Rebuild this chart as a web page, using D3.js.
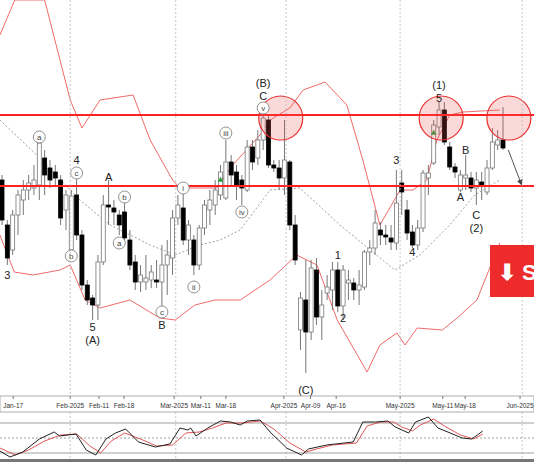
<!DOCTYPE html>
<html><head><meta charset="utf-8">
<script src="https://cdn.jsdelivr.net/npm/d3@7"></script>
<style>body{margin:0;background:#fff}svg{display:block;font-family:"Liberation Sans",Arial,sans-serif}</style>
</head><body><div id="canvas"></div>
<script>
// candles: [open, close, high, low]
const candles = [
[220,180,225,175],[175,142,180,135],[150,185,190,145],[185,205,210,165],[200,210,220,185],
[210,217,225,200],[212,220,235,205],[215,257,263,200],[242,225,250,205],[232,220,240,212],
[228,222,235,215],[220,182,225,175],[190,205,210,170],[150,204,210,148],[205,165,222,160],
[165,115,170,110],[115,100,120,95],[102,95,105,80],[95,138,145,80],[138,195,205,135],
[195,193,220,175],[192,188,200,175],[185,175,190,165],[188,162,200,155],[160,135,170,130],
[138,118,145,110],[118,125,135,108],[118,122,145,110],[120,128,135,112],[120,118,140,112],
[118,135,155,90],[135,145,160,105],[142,182,190,125],[182,195,205,175],[192,160,208,155],
[160,175,180,145],[160,135,165,125],[135,172,175,130],[172,195,200,165],[190,200,210,175],
[195,210,220,185],[205,228,235,200],[202,238,260,200],[238,225,245,215],[228,215,235,200],
[220,212,225,195],[210,253,260,208],[253,238,260,230],[242,260,270,235],[260,282,288,250],
[280,235,285,232],[235,232,240,228],[232,222,240,210],[222,240,280,205],[238,175,240,170],
[175,140,185,135],[70,102,108,50],[100,68,140,27],[68,132,140,60],[130,83,142,75],
[83,95,110,60],[107,113,125,100],[110,130,138,90],[130,94,138,88],[94,130,135,80],
[117,120,130,100],[117,110,122,100],[110,115,130,95],[113,148,150,110],[148,152,160,135],
[152,177,190,145],[170,165,178,155],[165,163,175,155],[162,158,175,150],[157,197,230,150],
[217,208,230,185],[190,167,200,160],[168,155,175,152],[155,172,180,150],[172,227,230,168],
[222,227,235,205],[237,275,280,235],[273,290,298,265],[290,258,298,255],[253,233,258,230],
[233,228,237,222],[210,225,230,208],[222,225,245,210],[222,212,228,208],[212,220,228,195],
[218,214,228,200],[208,232,240,205],[232,258,272,230],[255,260,270,250],[260,252,293,250]
];
const upperBand = [[-0.4,365],[2.4,400],[8,400],[12.8,300],[15,272],[18.4,300],[24.6,305],[27.8,260],[32,220],[33.4,212],[40.3,212],[43.3,235],[48.4,265],[50.3,280],[54,292],[56.5,310],[60.6,318],[64.7,295],[67.7,240],[70.9,175],[74.7,210],[77.1,210],[79.7,220],[81.6,260],[84,285],[86.5,288],[93.4,290]];
const lowerBand = [[-0.4,165],[2.3,128],[5.8,125],[10.9,130],[12.8,135],[15.6,100],[18.4,92],[24,100],[29.6,82],[32.5,80],[36.2,95],[40,100],[44.7,100],[50.3,120],[55.3,145],[59.1,135],[62.9,80],[68.5,28],[70.9,55],[74.1,67],[75.6,55],[77.9,72],[82.6,70],[85.4,82],[89.1,100],[93.4,157]];
const midBand = [[-0.4,280],[7.1,242],[14.6,200],[20.3,175],[27.8,155],[32.5,145],[37.1,155],[40.9,160],[44.7,170],[50.3,210],[55.9,212],[63.4,175],[73.7,130],[78.4,145],[84,175],[88.7,205],[93.4,220]];
const stochK = [[-0.4,24],[1.5,12],[3.9,22],[7,48],[9.8,62],[10.8,54],[13.9,58],[15.8,26],[17.6,16],[19.5,48],[21.3,60],[23.2,68],[25.6,42],[28.8,32],[31.5,38],[33.4,70],[34.9,66],[35.4,70],[36.4,54],[38.6,70],[41,84],[42.9,82],[44.7,76],[46,84],[48.4,86],[50.3,62],[53.4,30],[56.2,16],[57.5,28],[60.9,36],[65.9,42],[67.7,82],[70.1,82],[72.4,84],[73.8,72],[76.3,60],[77.6,82],[80,92],[81.8,70],[85,56],[86.3,50],[88.1,48],[89.2,56],[90.2,64]];
const stochD = [[-0.4,30],[2.5,16],[5,26],[8,44],[11,56],[14,58],[16.5,34],[18.5,20],[20.5,44],[23,60],[26,48],[29,34],[32,36],[34.5,60],[37,62],[39.5,70],[42,80],[45,80],[48.5,84],[51,68],[54,40],[57,22],[59,28],[62,36],[66.5,40],[68.5,74],[71,82],[73.5,82],[75,72],[77,64],[78.5,76],[81,88],[83,74],[86,56],[88.5,48],[90.2,58]];
const dateLabels = [[2.1,"Jan-17"],[12.8,"Feb-2025"],[18.2,"Feb-11"],[22.9,"Feb-18"],[32.3,"Mar-2025"],[37.3,"Mar-11"],[42,"Mar-18"],[52.9,"Apr-2025"],[57.9,"Apr-09"],[62.7,"Apr-16"],[74.7,"May-2025"],[82.7,"May-11"],[86.9,"May-18"],[97.2,"Jun-2025"]];
const monthStarts = [12.8,32.6,53.3,74.7,97.6];
// wave labels: [candle index, price, text, circled]
const waveLabels = [[1,125,"3",0],[7,263,"a",1],[14,240,"4",0],[14,227,"c",1],[13,144,"b",1],[17,73,"5",0],[17,60,"(A)",0],
[20,223,"A",0],[23,203,"b",1],[22,157,"a",1],[30,88,"c",1],[30,75,"B",0],[34,212,"i",1],[36,113,"ii",1],[42,267,"iii",1],
[45,188,"iv",1],[49,292,"v",1],[49,304,"C",0],[49,317,"(B)",0],[57,10,"(C)",0],[63,145,"1",0],[64,82,"2",0],[74,240,"3",0],
[77,148,"4",0],[82,302,"5",0],[82,315,"(1)",0],[86,203,"A",0],[87,250,"B",0],[89,185,"C",0],[89,172,"(2)",0]];
const levels = [285,214];
const circles = [[52.3,282],[82.4,282],[95.1,282]];
const arrowPts = [[95,250],[97.5,215]];

const width = 534, height = 462, mainBottom = 396;
const svg = d3.select('#canvas').append('svg').attr('width', width).attr('height', height);
const x = d3.scaleLinear().domain([0, 94]).range([2, 503]);
const y = d3.scaleLinear().domain([4, 400]).range([mainBottom, 0]);
const ys = d3.scaleLinear().domain([0, 100]).range([463, 413]);

svg.append('clipPath').attr('id','clip').append('rect').attr('width', width).attr('height', mainBottom);
const g = svg.append('g').attr('clip-path','url(#clip)');

// month grid
svg.selectAll('.vgrid').data(monthStarts).join('line')
  .attr('x1', d => x(d)).attr('x2', d => x(d)).attr('y1', 0).attr('y2', height)
  .attr('stroke', '#bbb').attr('stroke-width', 0.8).attr('stroke-dasharray', '2,2');

const line = d3.line().x(d => x(d[0])).y(d => y(d[1]));
g.append('path').attr('d', line(midBand)).attr('fill','none').attr('stroke','#888').attr('stroke-dasharray','2,2').attr('stroke-width',0.8);
[upperBand, lowerBand].forEach(b => g.append('path').attr('d', line(b)).attr('fill','none').attr('stroke','#f06a6a').attr('stroke-width',1));

// candles
const cw = 4;
g.selectAll('.wick').data(candles).join('line')
  .attr('x1', (d,i) => x(i)).attr('x2', (d,i) => x(i))
  .attr('y1', d => y(d[2])).attr('y2', d => y(d[3]))
  .attr('stroke', '#777').attr('stroke-width', 1);
g.selectAll('.body').data(candles).join('rect')
  .attr('x', (d,i) => x(i) - cw/2).attr('width', cw)
  .attr('y', d => y(Math.max(d[0], d[1])))
  .attr('height', d => Math.max(1, Math.abs(y(d[0]) - y(d[1]))))
  .attr('fill', d => d[1] >= d[0] ? '#fff' : '#000')
  .attr('stroke', d => d[1] >= d[0] ? '#777' : '#000').attr('stroke-width', 0.8);

// green markers
[41, 81].forEach(i => g.append('path').attr('d', d3.symbol(d3.symbolTriangle, 14)())
  .attr('transform', `translate(${x(i)},${y(candles[i][1]) + 8})`).attr('fill', '#2a9d3a'));

// levels and circles
g.selectAll('.lvl').data(levels).join('line')
  .attr('x1', 0).attr('x2', width).attr('y1', d => y(d)).attr('y2', d => y(d))
  .attr('stroke', '#f22').attr('stroke-width', 2);
g.selectAll('.circ').data(circles).join('circle')
  .attr('cx', d => x(d[0])).attr('cy', d => y(d[1])).attr('r', 22)
  .attr('fill', 'rgba(240,80,80,0.22)').attr('stroke', '#e83030').attr('stroke-width', 1.2);

// arrow
svg.append('defs').append('marker').attr('id','ah').attr('viewBox','0 0 10 10').attr('refX',9).attr('refY',5)
  .attr('markerWidth',6).attr('markerHeight',6).attr('orient','auto')
  .append('path').attr('d','M0,0L10,5L0,10z').attr('fill','#444');
g.append('path').attr('d', line(arrowPts)).attr('stroke','#555').attr('stroke-width',1).attr('marker-end','url(#ah)');

// wave labels
waveLabels.forEach(([i, p, t, c]) => {
  if (c) {
    g.append('circle').attr('cx', x(i)).attr('cy', y(p)).attr('r', 6).attr('fill','#fff').attr('stroke','#777').attr('stroke-width',0.8);
    g.append('text').attr('x', x(i)).attr('y', y(p) + 3).attr('text-anchor','middle').attr('font-size', 8).attr('fill','#444').text(t);
  } else {
    g.append('text').attr('x', x(i)).attr('y', y(p) + 4).attr('text-anchor','middle').attr('font-size', 11).attr('fill','#222').text(t);
  }
});

// sell banner (cut off at the right edge, as in the source)
svg.append('rect').attr('x', 490).attr('y', 245).attr('width', 60).attr('height', 52).attr('fill', '#ee2b2b');
svg.append('text').attr('x', 498).attr('y', 280).attr('fill','#fff').attr('font-size', 22).attr('font-weight','bold').text('⬇ S');

// date axis strip
svg.append('rect').attr('x', 0).attr('y', mainBottom).attr('width', width).attr('height', 16).attr('fill','#fff').attr('stroke','#999').attr('stroke-width',0.8);
svg.selectAll('.dl').data(dateLabels).join('text')
  .attr('x', d => x(d[0])).attr('y', mainBottom + 12).attr('text-anchor','middle')
  .attr('font-size', 6.5).attr('fill','#333').text(d => d[1]);
svg.selectAll('.dt').data(dateLabels).join('line')
  .attr('x1', d => x(d[0])).attr('x2', d => x(d[0])).attr('y1', mainBottom).attr('y2', mainBottom + 3).attr('stroke','#777');

// stochastic panel
[80, 20].forEach(v => svg.append('line').attr('x1',0).attr('x2',width).attr('y1',ys(v)).attr('y2',ys(v)).attr('stroke','#888').attr('stroke-width',0.8));
svg.append('line').attr('x1',0).attr('x2',width).attr('y1',ys(50)).attr('y2',ys(50)).attr('stroke','#888').attr('stroke-dasharray','2,2').attr('stroke-width',0.8);
const sline = d3.line().x(d => x(d[0])).y(d => ys(d[1]));
svg.append('path').attr('d', sline(stochD)).attr('fill','none').attr('stroke','#d44').attr('stroke-width',0.9);
svg.append('path').attr('d', sline(stochK)).attr('fill','none').attr('stroke','#222').attr('stroke-width',1);
svg.append('rect').attr('x',0).attr('y',459).attr('width',width).attr('height',3).attr('fill','#777');
</script></body></html>
